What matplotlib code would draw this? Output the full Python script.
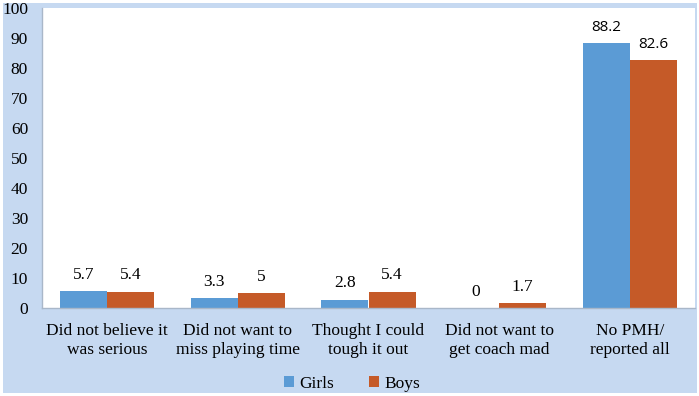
import matplotlib
matplotlib.use("Agg")
import matplotlib.pyplot as plt
import numpy as np
from matplotlib.patches import Rectangle

categories = ["Did not believe it\nwas serious", "Did not want to\nmiss playing time",
              "Thought I could\ntough it out", "Did not want to\nget coach mad",
              "No PMH/\nreported all"]
girls = [5.7, 3.3, 2.8, 0, 88.2]
boys = [5.4, 5, 5.4, 1.7, 82.6]
series_names = ["Girls", "Boys"]
colors = ["#5b9bd5", "#c55a28"]
yticks = [0, 10, 20, 30, 40, 50, 60, 70, 80, 90, 100]

W, H = 699, 396
fig = plt.figure(figsize=(W/100, H/100), dpi=100, facecolor="white")
fig.patches.append(Rectangle((3/W, 3/H), 694/W, 390/H, transform=fig.transFigure,
                             facecolor="#c6d9f1", edgecolor="none", zorder=-10))
ax = fig.add_axes([42/W, 1 - 308/H, 653/W, 300/H])
ax.set_facecolor("white")

x = np.arange(len(categories))
bw = 0.36
b1 = ax.bar(x - bw/2, girls, bw, color=colors[0], label=series_names[0])
b2 = ax.bar(x + bw/2, boys, bw, color=colors[1], label=series_names[1])

serif = ["Liberation Serif", "DejaVu Serif"]
serif_font = dict(family=serif, fontsize=12.5, color="black")
sans_font = dict(family=["Open Sans", "DejaVu Sans"], fontsize=11, color="black")
for bars, vals in ((b1, girls), (b2, boys)):
    for r, v in zip(bars, vals):
        f = sans_font if v > 50 else serif_font
        ax.annotate(f"{v:g}", (r.get_x() + r.get_width()/2, r.get_height()),
                    xytext=(0, 6), textcoords="offset points", ha="center", va="bottom",
                    **f)

ax.set_xlim(-0.5, len(categories) - 0.5)
ax.set_ylim(0, 100)
ax.set_yticks(yticks)
ax.set_yticklabels([str(t) for t in yticks], family=serif, fontsize=12.5)
ax.set_xticks(x)
ax.set_xticklabels(categories, family=serif, fontsize=12.5, linespacing=1.2)
ax.tick_params(axis="y", length=0, pad=10)
ax.tick_params(axis="x", length=0, pad=11)
for s in ["top", "right"]:
    ax.spines[s].set_visible(False)
for s in ["left", "bottom"]:
    ax.spines[s].set_color("#a9b7c9")
    ax.spines[s].set_linewidth(1)

leg = fig.legend(handles=[b1, b2], labels=series_names, loc="center",
                 bbox_to_anchor=(352/W, 1 - 384/H), ncol=2, frameon=False,
                 prop=dict(family=serif, size=12.5), handlelength=0.6,
                 handleheight=0.6, handletextpad=0.3, columnspacing=2.0)

fig.savefig("out.png", dpi=100, facecolor=fig.get_facecolor())
